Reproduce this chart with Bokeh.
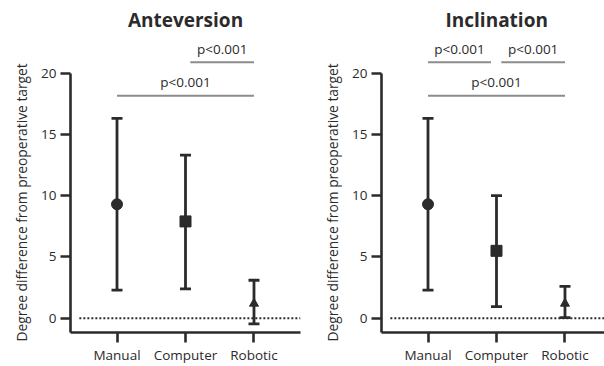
from bokeh.plotting import figure
from bokeh.layouts import row
from bokeh.models import FixedTicker, Title
from bokeh.core.properties import value
from bokeh.embed import file_html
from bokeh.resources import INLINE

categories = ["Manual", "Computer", "Robotic"]
markers = ["circle", "square", "triangle"]

ante_mean = [9.3, 7.9, 1.2]
ante_upper = [16.3, 13.3, 3.1]
ante_lower = [2.3, 2.4, -0.45]

incl_mean = [9.3, 5.5, 1.2]
incl_upper = [16.3, 10.0, 2.6]
incl_lower = [2.3, 0.95, 0.05]

y_ticks = [0, 5, 10, 15, 20]
y_label = "Degree difference from preoperative target"

# significance brackets: (x_start, x_end, y, label)
ante_sig = [(0, 2, 18.15, "p<0.001"), (1.07, 2, 20.87, "p<0.001")]
incl_sig = [(0, 2, 18.15, "p<0.001"), (0, 0.92, 20.87, "p<0.001"), (1.07, 2, 20.87, "p<0.001")]

FONT = "Open Sans"
FONT_V = value(FONT)
DARK = "#2b2b2b"
GRAY = "#8c8c8c"
X_START = -0.679
Y_START, Y_END = -1.16, 22.98
ZERO_LINE_START = -0.55
SIG_TEXT_OFFSET = 1.12


def panel(title, mean, upper, lower, sig, width, x_end, border_right, title_align, title_offset):
    p = figure(width=width, height=366, output_backend="svg", toolbar_location=None,
               x_range=(X_START, x_end), y_range=(Y_START, Y_END),
               min_border_left=70, min_border_right=border_right,
               min_border_top=36, min_border_bottom=33)
    p.outline_line_color = None
    p.grid.visible = False
    p.background_fill_color = None
    p.border_fill_color = None

    xs = list(range(len(categories)))
    # zero reference line
    p.line(x=[ZERO_LINE_START, x_end], y=[0, 0], line_color=DARK, line_width=2, line_dash="2 2")
    # whiskers
    p.segment(x0=xs, y0=lower, x1=xs, y1=upper, line_color=DARK, line_width=2.8)
    p.dash(x=xs, y=upper, size=11, line_color=DARK, line_width=2.8)
    p.dash(x=xs, y=lower, size=11, line_color=DARK, line_width=2.8)
    sizes = [11, 11, 9]
    p.scatter(x=xs, y=mean, marker=markers, size=sizes, fill_color=DARK, line_color=DARK)

    for x0, x1, y, txt in sig:
        p.line(x=[x0, x1], y=[y, y], line_color=GRAY, line_width=2)
        p.text(x=[(x0 + x1) / 2], y=[y + SIG_TEXT_OFFSET], text=[txt], text_align="center",
               text_baseline="middle", text_font_size="13.5px", text_color=DARK,
               text_font=FONT_V)

    p.title = Title(text=title, align=title_align, offset=title_offset, vertical_align="bottom",
                    standoff=7, text_font_size="19px", text_font_style="bold",
                    text_color=DARK, text_font=FONT)
    p.add_layout(Title(text=y_label, align="left", offset=-9, vertical_align="middle",
                       standoff=13, text_font_size="13.8px", text_font_style="normal",
                       text_color=DARK, text_font=FONT), "left")

    p.xaxis.ticker = FixedTicker(ticks=xs)
    p.xaxis.major_label_overrides = {i: c for i, c in enumerate(categories)}
    p.yaxis.ticker = FixedTicker(ticks=y_ticks)
    p.yaxis.bounds = (Y_START, y_ticks[-1])
    for ax in (p.xaxis, p.yaxis):
        ax.axis_label = None
        ax.axis_label_standoff = 0
        ax.axis_line_width = 2.6
        ax.axis_line_color = DARK
        ax.major_tick_line_width = 2.6
        ax.major_tick_line_color = DARK
        ax.major_tick_in = 0
        ax.major_tick_out = 10
        ax.minor_tick_line_color = None
        ax.major_label_text_font = FONT
        ax.major_label_text_font_size = "13.5px"
        ax.major_label_text_color = DARK
    p.xaxis.major_label_standoff = 3
    p.yaxis.major_label_standoff = 4
    return p


left = panel("Anteversion", ante_mean, ante_upper, ante_lower, ante_sig, 311, 2.679, 11, "center", 0)
right = panel("Inclination", incl_mean, incl_upper, incl_lower, incl_sig, 293, 2.577, 0, "left", 64)

layout = row(left, right)
open("out.html", "w").write(file_html(layout, INLINE))
